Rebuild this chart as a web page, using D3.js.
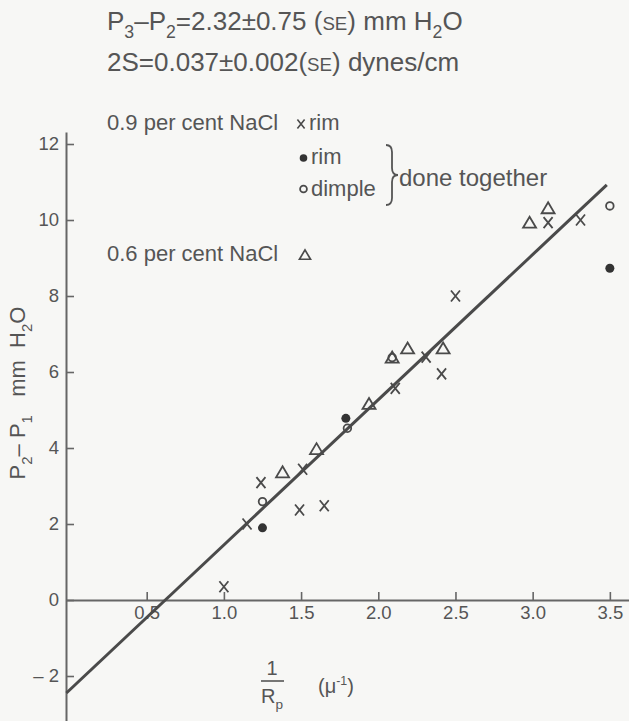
<!DOCTYPE html>
<html>
<head>
<meta charset="utf-8">
<script src="https://cdn.jsdelivr.net/npm/d3@7"></script>
<style>
  body { margin: 0; background: #f7f7f5; }
  svg { display: block; }
  text { font-family: "Liberation Sans", Arial, sans-serif; fill: #555; white-space: pre; }
</style>
</head>
<body>
<svg id="chart" width="629" height="721"></svg>
<script>
// values: 1/Rp (µ^-1) against P2 - P1 (mm H2O)
const rimX = [1.0, 1.15, 1.24, 1.49, 1.51, 1.65, 2.11, 2.31, 2.41, 2.50, 3.10, 3.31]
const rimY = [0.35, 2.0, 3.09, 2.37, 3.44, 2.48, 5.57, 6.39, 5.95, 8.0, 9.93, 10.0]
const rimTogetherX = [1.25, 1.79, 3.50]
const rimTogetherY = [1.90, 4.78, 8.73]
const dimpleX = [1.25, 1.80, 2.09, 3.50]
const dimpleY = [2.59, 4.52, 6.38, 10.37]
const nacl06X = [1.38, 1.60, 1.94, 2.09, 2.19, 2.42, 2.98, 3.10]
const nacl06Y = [3.36, 3.97, 5.16, 6.38, 6.62, 6.62, 9.93, 10.31]

// fitted line y = a + b x
const fitIntercept = -2.37
const fitSlope = 3.82
const fitRange = [-0.02, 3.48]

const xTicks = [0.5, 1.0, 1.5, 2.0, 2.5, 3.0, 3.5]
const yTicks = [-2, 0, 2, 4, 6, 8, 10, 12]

const ink = '#4a4a4a'
const svg = d3.select('#chart')

const x = d3.scaleLinear().domain([-0.0227, 3.624]).range([66, 629])
const y = d3.scaleLinear().domain([-3.184, 12.316]).range([721, 132])

// writes text with sub / superscript / small caps parts
function rich(sel, px, py, size, parts, anchor) {
    const t = sel.append('text')
        .attr('x', px)
        .attr('y', py)
        .attr('font-size', size)
        .attr('text-anchor', anchor || 'start')
    let cur = 0
    parts.forEach(p => {
        const s = typeof p === 'string' ? p : p[0]
        const k = typeof p === 'string' ? '' : p[1]
        let off = 0
        let fs = size
        if (k === 'sub') { off = size * 0.32; fs = size * 0.68 }
        if (k === 'sup') { off = -size * 0.42; fs = size * 0.62 }
        if (k === 'sc') { fs = size * 0.72 }
        t.append('tspan')
            .attr('dy', off - cur)
            .attr('font-size', fs)
            .text(s)
        cur = off
    })
    return t
}

// y axis (ticks point into the plot)
svg.append('g')
    .attr('transform', `translate(${x.range()[0]},0)`)
    .call(d3.axisLeft(y)
        .tickValues(yTicks)
        .tickSizeInner(-8)
        .tickSizeOuter(0)
        .tickPadding(7)
        .tickFormat(d => d < 0 ? '– ' + Math.abs(d) : d))

// x axis at zero
svg.append('g')
    .attr('transform', `translate(0,${y(0)})`)
    .call(d3.axisBottom(x)
        .tickValues(xTicks)
        .tickSizeInner(-8)
        .tickSizeOuter(0)
        .tickPadding(6)
        .tickFormat(d3.format('.1f')))

svg.selectAll('.domain').attr('stroke', '#666').attr('stroke-width', 2)
svg.selectAll('.tick line').attr('stroke', '#666').attr('stroke-width', 1.6)
svg.selectAll('.tick text')
    .attr('font-size', 18.5)
    .attr('font-family', '"Liberation Sans", Arial, sans-serif')
    .attr('fill', '#555')

// regression line
svg.append('line')
    .attr('x1', x(fitRange[0]))
    .attr('y1', y(fitIntercept + fitSlope * fitRange[0]))
    .attr('x2', x(fitRange[1]))
    .attr('y2', y(fitIntercept + fitSlope * fitRange[1]))
    .attr('stroke', ink)
    .attr('stroke-width', 3)

const cross = 'M-4.5,-5.5L4.5,5.5M4.5,-5.5L-4.5,5.5'
const tri = 'M0,-6L6.5,5L-6.5,5Z'

function marks(xs, ys, kind) {
    const g = svg.append('g')
    const pts = xs.map((v, i) => [v, ys[i]])
    const sel = g.selectAll('.m').data(pts).enter()
    if (kind === 'dot') {
        sel.append('circle')
            .attr('cx', d => x(d[0])).attr('cy', d => y(d[1]))
            .attr('r', 4.5).attr('fill', '#333')
    } else if (kind === 'ring') {
        sel.append('circle')
            .attr('cx', d => x(d[0])).attr('cy', d => y(d[1]))
            .attr('r', 3.8).attr('fill', 'none')
            .attr('stroke', ink).attr('stroke-width', 1.8)
    } else {
        sel.append('path')
            .attr('transform', d => `translate(${x(d[0])},${y(d[1])})`)
            .attr('d', kind === 'cross' ? cross : tri)
            .attr('fill', 'none')
            .attr('stroke', ink).attr('stroke-width', 1.8)
    }
}

marks(rimX, rimY, 'cross')
marks(rimTogetherX, rimTogetherY, 'dot')
marks(dimpleX, dimpleY, 'ring')
marks(nacl06X, nacl06Y, 'tri')

// header lines
rich(svg, 107, 30, 26, ['P', ['3', 'sub'], '–P', ['2', 'sub'], '=2.32±0.75 (', ['SE', 'sc'], ') mm H', ['2', 'sub'], 'O'])
rich(svg, 107, 71, 26, ['2S=0.037±0.002(', ['SE', 'sc'], ') dynes/cm'])

// legend
rich(svg, 107, 130, 22, ['0.9 per cent NaCl'])
svg.append('path').attr('transform', 'translate(301,124)scale(0.8)')
    .attr('d', cross).attr('fill', 'none').attr('stroke', ink).attr('stroke-width', 2)
rich(svg, 309, 130, 22, ['rim'])
svg.append('circle').attr('cx', 303.5).attr('cy', 158).attr('r', 3.8).attr('fill', '#333')
rich(svg, 311, 164, 22, ['rim'])
svg.append('circle').attr('cx', 303.5).attr('cy', 189).attr('r', 3.4)
    .attr('fill', 'none').attr('stroke', ink).attr('stroke-width', 1.8)
rich(svg, 311, 196, 22, ['dimple'])
svg.append('path')
    .attr('d', 'M386,145Q392,145 392,152L392,168Q392,175 398,175Q392,175 392,182L392,198Q392,205 386,205')
    .attr('fill', 'none').attr('stroke', '#555').attr('stroke-width', 1.8)
rich(svg, 399, 186, 24, ['done together'])
rich(svg, 107, 261, 22, ['0.6 per cent NaCl'])
svg.append('path').attr('transform', 'translate(305,255)scale(0.85)')
    .attr('d', tri).attr('fill', 'none').attr('stroke', ink).attr('stroke-width', 2)

// axis titles
rich(svg, 0, 0, 22, ['P', ['2', 'sub'], '– P', ['1', 'sub'], '   mm  H', ['2', 'sub'], 'O'], 'middle')
    .attr('transform', 'translate(25,393)rotate(-90)')

rich(svg, 272, 675, 20, ['1'], 'middle')
svg.append('line').attr('x1', 261).attr('x2', 284).attr('y1', 681).attr('y2', 681)
    .attr('stroke', '#555').attr('stroke-width', 1.6)
rich(svg, 272, 703, 20, ['R', ['p', 'sub']], 'middle')
rich(svg, 318, 693, 20, ['(μ', ['-1', 'sup'], ')'])
</script>
</body>
</html>
